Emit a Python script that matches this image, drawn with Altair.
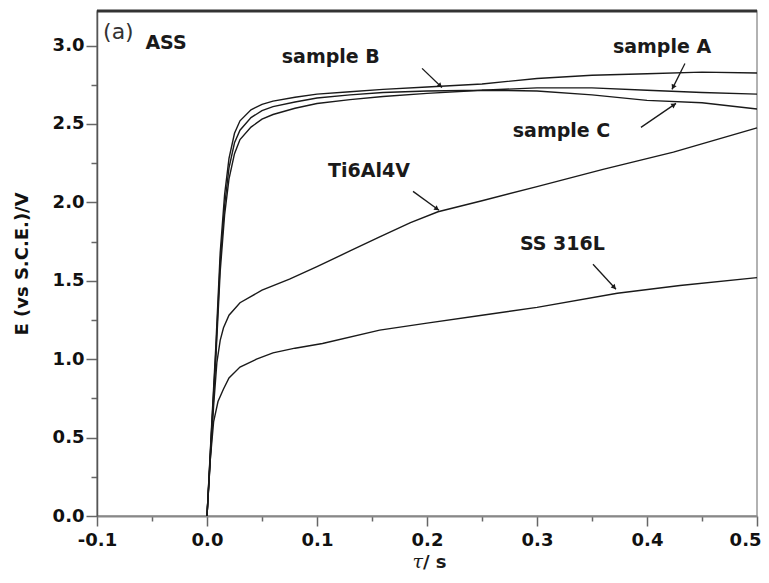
import math
import altair as alt
import pandas as pd

# ---- data ----
t_samples = [0, 0.004, 0.008, 0.012, 0.016, 0.02, 0.025, 0.03, 0.04, 0.05, 0.06, 0.08,
             0.1, 0.13, 0.16, 0.2, 0.25, 0.3, 0.35, 0.4, 0.45, 0.5]
E_sample_B = [0, 0.55, 1.08, 1.68, 2.05, 2.28, 2.44, 2.52, 2.59, 2.625, 2.645, 2.67,
              2.69, 2.705, 2.72, 2.735, 2.755, 2.79, 2.81, 2.82, 2.83, 2.825]
E_sample_A = [0, 0.53, 1.04, 1.62, 1.98, 2.22, 2.38, 2.46, 2.54, 2.585, 2.61, 2.64,
              2.665, 2.685, 2.70, 2.71, 2.715, 2.73, 2.73, 2.715, 2.70, 2.69]
E_sample_C = [0, 0.51, 1.0, 1.56, 1.92, 2.15, 2.31, 2.40, 2.48, 2.53, 2.56, 2.60,
              2.63, 2.655, 2.675, 2.695, 2.715, 2.71, 2.685, 2.65, 2.635, 2.595]

t_ti = [0, 0.003, 0.006, 0.009, 0.012, 0.015, 0.02, 0.03, 0.05, 0.075, 0.1, 0.13,
        0.157, 0.185, 0.21, 0.25, 0.3, 0.36, 0.424, 0.5]
E_ti = [0, 0.36, 0.7, 0.98, 1.12, 1.2, 1.28, 1.36, 1.44, 1.51, 1.59, 1.69,
        1.78, 1.87, 1.94, 2.01, 2.10, 2.21, 2.32, 2.475]

t_ss = [0, 0.003, 0.006, 0.01, 0.015, 0.02, 0.03, 0.045, 0.06, 0.08, 0.105, 0.157,
        0.2, 0.25, 0.3, 0.373, 0.43, 0.5]
E_ss = [0, 0.36, 0.6, 0.73, 0.81, 0.88, 0.95, 1.0, 1.04, 1.07, 1.10, 1.185,
        1.23, 1.28, 1.33, 1.42, 1.47, 1.52]

label_text = ["sample B", "sample A", "sample C", "Ti6Al4V", "SS 316L"]
label_t = [0.068, 0.369, 0.278, 0.11, 0.2845]
label_E = [2.89, 2.955, 2.414, 2.159, 1.694]

arrow_t1 = [0.1955, 0.4345, 0.3945, 0.1873, 0.3509]
arrow_E1 = [2.854, 2.885, 2.478, 2.07, 1.605]
arrow_t2 = [0.2136, 0.4227, 0.4264, 0.2109, 0.3718]
arrow_E2 = [2.732, 2.72, 2.631, 1.949, 1.446]

x_ticks = [-0.1, -0.05, 0.0, 0.05, 0.1, 0.15, 0.2, 0.25, 0.3, 0.35, 0.4, 0.45, 0.5]
y_ticks = [0.0, 0.25, 0.5, 0.75, 1.0, 1.25, 1.5, 1.75, 2.0, 2.25, 2.5, 2.75, 3.0]
x_domain = [-0.1, 0.5]
y_domain = [0.0, 3.22]

W, H = 660, 505

# ---- tables ----
rows = []
for name, tt, ee in [("sample B", t_samples, E_sample_B), ("sample A", t_samples, E_sample_A),
                     ("sample C", t_samples, E_sample_C), ("Ti6Al4V", t_ti, E_ti),
                     ("SS 316L", t_ss, E_ss)]:
    for a, b in zip(tt, ee):
        rows.append({"series": name, "t": a, "E": b})
curves = pd.DataFrame(rows)

labels = pd.DataFrame({"text": label_text, "t": label_t, "E": label_E})

px_t = W / (x_domain[1] - x_domain[0])
px_E = H / (y_domain[1] - y_domain[0])
arr_rows = []
for a1, b1, a2, b2 in zip(arrow_t1, arrow_E1, arrow_t2, arrow_E2):
    dx = (a2 - a1) * px_t
    dy = -(b2 - b1) * px_E
    ang = math.degrees(math.atan2(dx, -dy)) % 360
    L = math.hypot(dx, dy)
    back = 2.5
    ht = a2 - (dx / L) * back / px_t
    hE = b2 + (dy / L) * back / px_E
    arr_rows.append({"t1": a1, "E1": b1, "t2": a2, "E2": b2, "ht": ht, "hE": hE, "ang": ang})
arrows = pd.DataFrame(arr_rows)

xs = alt.Scale(domain=x_domain, nice=False, zero=False)
ys = alt.Scale(domain=y_domain, nice=False, zero=False)

x_major = "abs(datum.value*10 - round(datum.value*10)) < 0.001"
y_major = "abs(datum.value*2 - round(datum.value*2)) < 0.001"
x_last = "datum.value > 0.49"

x_axis = alt.Axis(
    values=x_ticks, title=None, grid=False, labelOverlap=False, labelFlush=False,
    labelExpr=f"({x_major}) ? replace(format(datum.value, '.1f'), '\u2212', '-') : ''",
    labelAlign={"condition": {"test": x_last, "value": "right"}, "value": "center"},
    labelOffset={"condition": {"test": x_last, "value": 4}, "value": 0},
    tickSize={"condition": {"test": x_major, "value": 10}, "value": 5},
    tickColor="#666", tickWidth=1.5, domainColor="#888", domainWidth=2,
    labelFont="DejaVu Sans", labelFontWeight="bold", labelFontSize=18,
    labelColor="#111", labelPadding=5,
)
y_axis = alt.Axis(
    values=y_ticks, title="E  (vs S.C.E.)/V", grid=False, labelOverlap=False,
    labelFlush=False,
    labelExpr=f"({y_major}) ? format(datum.value, '.1f') : ''",
    tickSize={"condition": {"test": y_major, "value": 11}, "value": 6},
    tickColor="#666", tickWidth=1.5, domainColor="#555", domainWidth=1.5,
    labelFont="DejaVu Sans", labelFontWeight="bold", labelFontSize=18,
    labelColor="#111", labelPadding=2,
    titleFont="DejaVu Sans", titleFontWeight="bold", titleFontSize=18,
    titleColor="#111", titlePadding=21,
)

lines = alt.Chart(curves).mark_line(color="#1a1a1a", strokeWidth=1.4).encode(
    x=alt.X("t:Q", scale=xs, axis=x_axis),
    y=alt.Y("E:Q", scale=ys, axis=y_axis),
    detail="series:N",
)

arrow_lines = alt.Chart(arrows).mark_rule(color="#1a1a1a", strokeWidth=1.3).encode(
    x=alt.X("t1:Q", scale=xs), y=alt.Y("E1:Q", scale=ys), x2="t2:Q", y2="E2:Q"
)
arrow_heads = alt.Chart(arrows).mark_point(
    shape="triangle-up", filled=True, color="#1a1a1a", size=30, opacity=1
).encode(
    x=alt.X("ht:Q", scale=xs), y=alt.Y("hE:Q", scale=ys), angle=alt.Angle("ang:Q", scale=None)
)

label_marks = alt.Chart(labels).mark_text(
    align="left", baseline="alphabetic", font="DejaVu Sans", fontWeight="bold",
    fontSize=19, color="#1a1a1a"
).encode(x=alt.X("t:Q", scale=xs), y=alt.Y("E:Q", scale=ys), text="text:N")

panel_a = alt.Chart(pd.DataFrame({"t": [-0.0945], "E": [3.04], "s": ["(a)"]})).mark_text(
    align="left", baseline="alphabetic", font="DejaVu Sans", fontSize=22, color="#333"
).encode(x=alt.X("t:Q", scale=xs), y=alt.Y("E:Q", scale=ys), text="s:N")
panel_ass = alt.Chart(pd.DataFrame({"t": [-0.056], "E": [2.98], "s": ["ASS"]})).mark_text(
    align="left", baseline="alphabetic", font="DejaVu Sans", fontWeight="bold",
    fontSize=19, color="#1a1a1a"
).encode(x=alt.X("t:Q", scale=xs), y=alt.Y("E:Q", scale=ys), text="s:N")

title_tau = alt.Chart(pd.DataFrame({"s": ["τ"]})).mark_text(
    align="right", baseline="alphabetic", font="DejaVu Serif", fontStyle="italic",
    fontSize=19, color="#1a1a1a"
).encode(x=alt.value(326), y=alt.value(557), text="s:N")
title_s = alt.Chart(pd.DataFrame({"s": ["/ s"]})).mark_text(
    align="left", baseline="alphabetic", font="DejaVu Sans", fontWeight="bold",
    fontSize=18, color="#1a1a1a"
).encode(x=alt.value(326), y=alt.value(557), text="s:N")

top_border = alt.Chart(pd.DataFrame({"k": [0]})).mark_rule(
    color="#333", strokeWidth=3
).encode(x=alt.value(0), x2=alt.value(W), y=alt.value(0))

chart = alt.layer(
    lines, arrow_lines, arrow_heads, label_marks, panel_a, panel_ass,
    title_tau, title_s, top_border
).properties(
    width=W, height=H,
    autosize=alt.AutoSizeParams(type="none"),
    padding={"left": 89, "top": 3, "right": 4, "bottom": 57},
    background="white",
).configure_view(stroke="#999", strokeWidth=1.5)

chart.save("out.html", embed_options={"renderer": "svg", "actions": False})
